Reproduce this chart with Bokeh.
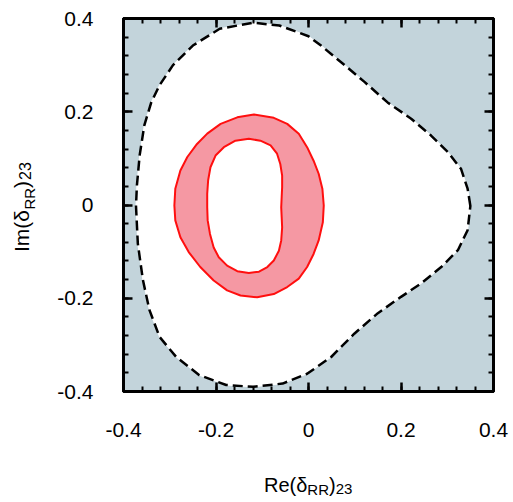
from bokeh.plotting import figure
from bokeh.models import Range1d, LinearAxis, FixedTicker, Label, CustomLabelingPolicy
from bokeh.embed import file_html
from bokeh.resources import INLINE
import math

# ---- data ----
# dashed boundary of the allowed (white) region
outer_x = [0.350, 0.344, 0.330, 0.301, 0.265, 0.222, 0.171, 0.121, 0.078, 0.027,
           0.000, -0.063, -0.120, -0.192, -0.250, -0.293, -0.322, -0.340, -0.355, -0.365,
           -0.371, -0.373, -0.369, -0.358, -0.344, -0.322, -0.286, -0.236, -0.178, -0.120,
           -0.056, -0.003, 0.049, 0.099, 0.150, 0.200, 0.244, 0.287, 0.323, 0.344]
outer_y = [-0.002, 0.035, 0.077, 0.114, 0.149, 0.185, 0.220, 0.264, 0.300, 0.342,
           0.362, 0.385, 0.391, 0.378, 0.342, 0.300, 0.257, 0.220, 0.171, 0.107,
           0.042, -0.002, -0.083, -0.161, -0.225, -0.283, -0.326, -0.365, -0.386, -0.390,
           -0.383, -0.362, -0.326, -0.276, -0.232, -0.197, -0.168, -0.133, -0.097, -0.054]

# red ring: outer boundary
ring_out_x = [-0.118, -0.075, -0.046, -0.021, -0.003, 0.011, 0.022, 0.030, 0.033, 0.031,
              0.022, 0.011, -0.003, -0.021, -0.046, -0.075, -0.111, -0.147, -0.176, -0.205,
              -0.234, -0.259, -0.277, -0.288, -0.290, -0.288, -0.277, -0.262, -0.241, -0.219,
              -0.190, -0.154]
ring_out_y = [0.194, 0.187, 0.174, 0.153, 0.124, 0.095, 0.067, 0.035, -0.001, -0.037,
              -0.076, -0.105, -0.133, -0.158, -0.176, -0.191, -0.198, -0.194, -0.183, -0.162,
              -0.133, -0.101, -0.069, -0.033, -0.001, 0.035, 0.074, 0.103, 0.131, 0.153,
              0.174, 0.188]
# red ring: inner boundary (hole)
ring_in_x = [-0.129, -0.104, -0.082, -0.068, -0.061, -0.057, -0.057, -0.058, -0.059, -0.058,
             -0.057, -0.059, -0.064, -0.075, -0.089, -0.107, -0.129, -0.154, -0.176, -0.194,
             -0.205, -0.213, -0.218, -0.219, -0.219, -0.217, -0.212, -0.201, -0.183, -0.158]
ring_in_y = [0.142, 0.138, 0.128, 0.110, 0.088, 0.063, 0.038, 0.017, -0.005, -0.026,
             -0.048, -0.076, -0.098, -0.119, -0.133, -0.143, -0.146, -0.142, -0.130, -0.112,
             -0.091, -0.062, -0.033, -0.005, 0.024, 0.053, 0.081, 0.106, 0.124, 0.138]

axis_lim = [-0.4, 0.4]
major_ticks = [-0.4, -0.2, 0.0, 0.2, 0.4]
tick_labels = ["-0.4", "-0.2", "0", "0.2", "0.4"]
minor_ticks = [round(-0.4 + 0.04 * i, 2) for i in range(21)]

GRAY = "#c3d4db"
PINK = "#f598a3"
RED = "#ff0f0f"
FONT = "Liberation Sans"

# canvas layout (pixels): plot box inside a full-canvas frame
W, H = 513, 502
BOX_L, BOX_R, BOX_T, BOX_B = 123, 493, 18, 391
sx = (BOX_R - BOX_L) / (axis_lim[1] - axis_lim[0])
sy = (BOX_B - BOX_T) / (axis_lim[1] - axis_lim[0])
x_range = Range1d(axis_lim[0] - BOX_L / sx, axis_lim[1] + (W - BOX_R) / sx)
y_range = Range1d(axis_lim[0] - (H - BOX_B) / sy, axis_lim[1] + BOX_T / sy)

p = figure(frame_width=W, frame_height=H, x_range=x_range, y_range=y_range,
           output_backend="svg", toolbar_location=None, min_border=0,
           background_fill_color="white", border_fill_color="white")
p.grid.visible = False
p.outline_line_color = None

# plot box (gray = excluded region)
p.quad(left=[axis_lim[0]], right=[axis_lim[1]], bottom=[axis_lim[0]], top=[axis_lim[1]],
       fill_color=GRAY, line_color="black", line_width=3)

# regions
p.patch(outer_x, outer_y, fill_color="white", line_color=None)
p.patch(ring_out_x, ring_out_y, fill_color=PINK, line_color=RED, line_width=2)
p.patch(ring_in_x, ring_in_y, fill_color="white", line_color=RED, line_width=2)
p.patch(outer_x, outer_y, fill_color=None, line_color="white", line_width=1)
p.patch(outer_x, outer_y, fill_color=None, line_color="black", line_width=2.5,
        line_dash="10 5")

p.add_layout(LinearAxis(), "right")
p.add_layout(LinearAxis(), "above")

overrides = dict(zip(major_ticks, tick_labels))
for ax in p.axis:
    ax.ticker = FixedTicker(ticks=major_ticks, minor_ticks=minor_ticks)
    ax.bounds = (axis_lim[0], axis_lim[1])
    ax.axis_line_width = 3
    ax.axis_line_color = "black"
    ax.major_tick_in = 9
    ax.major_tick_out = 0
    ax.minor_tick_in = 5
    ax.minor_tick_out = 0
    ax.major_tick_line_width = 2.5
    ax.minor_tick_line_width = 2
    ax.major_tick_line_color = "black"
    ax.minor_tick_line_color = "black"
    ax.major_label_text_font = FONT
    ax.major_label_text_font_size = "21px"
    ax.major_label_text_color = "black"
    ax.major_label_overrides = overrides

p.below[0].fixed_location = axis_lim[0]
p.above[0].fixed_location = axis_lim[1]
p.left[0].fixed_location = axis_lim[0]
p.right[0].fixed_location = axis_lim[1]
p.below[0].major_label_standoff = 31
p.left[0].major_label_standoff = 30
for ax in (p.above[0], p.right[0]):
    ax.major_label_standoff = 0
    ax.major_label_policy = CustomLabelingPolicy(code="return new Set()")

# axis titles built from pieces (subscripts); screen units from canvas bottom-left
def add(text, px, py, size, angle=0.0):
    p.add_layout(Label(x=px, y=H - py, x_units="screen", y_units="screen", text=text,
                       angle=angle,
                       text_font=FONT, text_font_size=size, text_color="black",
                       text_align="left", text_baseline="alphabetic"))

add("Re(\u03b4", 263.5, 484.5, "20px")
add("RR", 306.8, 488.5, "15px")
add(")", 328.5, 484.5, "20px")
add("23", 335.2, 488.5, "15px")

a = math.pi / 2
add("Im(\u03b4", 21, 251.5, "21px", angle=a)
add("RR", 29, 209, "15px", angle=a)
add(")", 21, 187.5, "21px", angle=a)
add("23", 24, 179.5, "16px", angle=a)

open("out.html", "w").write(file_html(p, INLINE))
